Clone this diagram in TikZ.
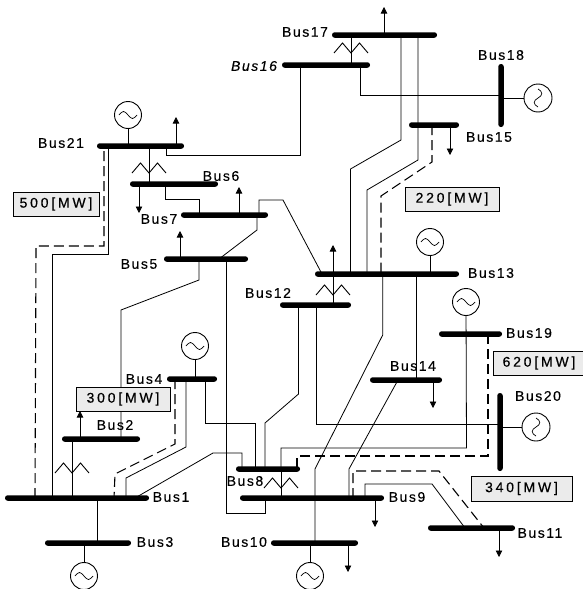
\documentclass[tikz,border=0pt]{standalone}
\usepackage{fontspec}
\usetikzlibrary{arrows.meta}
\newfontfamily\busfont[LetterSpace=11,FakeBold=0.3]{Liberation Sans}
\newfontfamily\mwfont[LetterSpace=20,FakeBold=0.4]{Liberation Sans}
\tikzset{
  busbar/.style={fill=black,inner sep=0pt,rounded corners=2.6pt,minimum height=5.5pt},
  vbusbar/.style={fill=black,inner sep=0pt,rounded corners=2.6pt,minimum width=5.5pt},
  line/.style={line width=0.8pt},
  dashline/.style={line width=1.1pt,dash pattern=on 10pt off 5pt},
  load/.style={line width=0.8pt,-{Triangle[length=6.5pt,width=6.5pt]}},
  gen/.style={circle,draw,line width=0.9pt,minimum size=27pt,inner sep=0pt,
    path picture={\draw[line width=0.7pt] (path picture bounding box.center) ++(-9,0)
      sin ++(4.5,-3.5) cos ++(4.5,3.5) sin ++(4.5,3.5) cos ++(4.5,-3.5);}},
  vgen/.style={circle,draw,line width=0.9pt,minimum size=28pt,inner sep=0pt,
    path picture={\draw[line width=0.7pt,shift={(path picture bounding box.center)}]
      (0,-9) .. controls (5,-6.5) and (5,-2.5) .. (0,0) .. controls (-5,2.5) and (-5,6.5) .. (0,9);}},
  buslabel/.style={inner sep=0pt,font=\busfont\fontsize{14}{16}\selectfont},
  mwbox/.style={draw,line width=0.6pt,fill=gray!16,inner sep=0pt,font=\mwfont\fontsize{14}{16}\selectfont},
  xfmr/.pic={\draw[line width=0.9pt] (-17,10)--(-8.5,0)--(0,10)--(8.5,0)--(17,10);}
}
\newcommand{\hbus}[4]{\node[busbar,minimum width={#3-#2}] (#1) at ({(#2+#3)/2},#4) {};}
\begin{document}
\begin{tikzpicture}[x=1pt,y=-1pt]
\useasboundingbox (0,0) rectangle (583,589);
% horizontal buses
\hbus{b1}{5}{149}{498}
\hbus{b2}{62}{140}{439}
\hbus{b3}{45}{131}{543}
\hbus{b4}{167}{217}{379}
\hbus{b5}{164}{248}{259}
\hbus{b6}{130}{218}{184}
\hbus{b7}{181}{268}{215}
\hbus{b8}{236}{300}{469}
\hbus{b9}{240}{384}{498}
\hbus{b10}{271}{358}{543}
\hbus{b11}{428}{515}{528}
\hbus{b12}{280}{351}{305}
\hbus{b13}{315}{459}{274}
\hbus{b14}{370}{442}{380}
\hbus{b15}{409}{459}{125}
\hbus{b16}{282}{370}{65}
\hbus{b17}{332}{437}{35}
\hbus{b19}{439}{502}{334}
\hbus{b21}{97}{184}{146}
% vertical buses
\node[vbusbar,minimum height=63pt] (b18) at (501,95.5) {};
\node[vbusbar,minimum height=78pt] (b20) at (500,432) {};
% generators
\node[gen] (g21) at (128,115) {};
\node[gen] (g3) at (84,576) {};
\node[gen] (g4) at (195,346) {};
\node[gen] (g10) at (310,576) {};
\node[gen] (g13) at (430,242) {};
\node[gen] (g19) at (466,302) {};
\node[vgen] (g18) at (538,98) {};
\node[vgen] (g20) at (536,427) {};
\draw[line] (g21) -- (g21 |- b21);
\draw[line] (g3) -- (g3 |- b3);
\draw[line] (g4) -- (g4 |- b4);
\draw[line] (g10) -- (g10 |- b10);
\draw[line] (g13) -- (g13 |- b13);
\draw[line] (g18) -- (g18 -| b18);
\draw[line] (g20) -- (g20 -| b20);
% loads
\foreach \n/\b/\x/\y in {l21/b21/176/117, l6/b6/139/213, l7/b7/239/187, l5/b5/180/231,
  l2/b2/80/411, l17/b17/384/7, l15/b15/450/155, l13/b13/333/245, l14/b14/433/408,
  l9/b9/375/527, l10/b10/348/572, l11/b11/499/557}{
  \coordinate (\n) at (\x,\y);
  \draw[load] (\n |- \b) -- (\n);
}
% transformers
\draw[line] (149,0 |- b21) -- (149,0 |- b6);
\pic at (149,163) {xfmr};
\draw[line] (72,0 |- b2) -- (72,0 |- b1);
\pic at (72,463) {xfmr};
\draw[line] (281,0 |- b8) -- (281,0 |- b9);
\pic at (281,478) {xfmr};
\draw[line] (351,0 |- b17) -- (351,0 |- b16);
\pic at (351,43) {xfmr};
\draw[line] (333,0 |- b13) -- (333,0 |- b12);
\pic at (333,285) {xfmr};
% solid lines
\draw[line] (52,0 |- b1) -- (52,254) -- (108,254) -- (108,0 |- b21);
\draw[line] (97.5,0 |- b1) -- (97.5,0 |- b3);
\draw[line] (166,0 |- b21) -- (166,155) -- (300,155) -- (300,0 |- b16);
\draw[line] (165,0 |- b6) -- (165,199) -- (199,199) -- (199,0 |- b7);
\draw[line] (259,0 |- b7) -- (259,200) -- (283,200) -- (322,0 |- b13);
\draw[line] (257,0 |- b7) -- (257,230) -- (219,0 |- b5);
\draw[line] (199,0 |- b5) -- (199,280) -- (121,310) -- (121,0 |- b2);
\draw[line] (226,0 |- b5) -- (226,513) -- (265,513) -- (265,0 |- b9);
\draw[line] (186,0 |- b4) -- (186,447) -- (126,478) -- (126,0 |- b1);
\draw[line] (205,0 |- b4) -- (205,423) -- (255,423) -- (255,0 |- b8);
\draw[line] (298.5,0 |- b12) -- (298.5,394) -- (265,423) -- (265,0 |- b8);
\draw[line] (135,0 |- b1) -- (213,453) -- (242,453) -- (242,0 |- b8);
\draw[line] (g19) -- (466.5,448) -- (281,448) -- (281,0 |- b8);
\draw[line] (382.7,0 |- b13) -- (382.7,335) -- (315,469) -- (315,0 |- b10);
\draw[line] (416.7,0 |- b13) -- (416.7,0 |- b14);
\draw[line] (398,0 |- b14) -- (349,469) -- (349,0 |- b9);
\draw[line] (365,0 |- b9) -- (365,484) -- (432,484) -- (465,0 |- b11);
\draw[line] (316,0 |- b12) -- (316,424) -- (500,424);
\draw[line] (360,0 |- b16) -- (360,95) -- (501,95);
\draw[line] (401,0 |- b17) -- (401,140) -- (350.5,169) -- (350.5,0 |- b13);
\draw[line] (418,0 |- b17) -- (418,160) -- (367,190) -- (367,0 |- b13);
% dashed lines
\draw[dashline] (35,0 |- b1) -- (36,246) -- (104,246) -- (104,0 |- b21);
\draw[dashline] (175,0 |- b4) -- (175,444) -- (115,474) -- (114,0 |- b1);
\draw[dashline] (488,0 |- b19) -- (488,456) -- (297,456) -- (297,0 |- b8);
\draw[dashline] (353,0 |- b9) -- (353,471) -- (439,471) -- (484,0 |- b11);
\draw[dashline] (432,0 |- b15) -- (432,162) -- (381,196) -- (381,0 |- b13);
% boxes
\node[mwbox,minimum width=86pt,minimum height=24pt] (m500) at (56,204) {500[MW]};
\node[mwbox,minimum width=94pt,minimum height=24pt] (m220) at (452,199) {220[MW]};
\node[mwbox,minimum width=94pt,minimum height=24pt] (m300) at (123,399) {300[MW]};
\node[mwbox,minimum width=92pt,minimum height=24pt] (m620) at (539,363) {620[MW]};
\node[mwbox,minimum width=101pt,minimum height=25pt] (m340) at (521.5,488.5) {340[MW]};
% labels
\node[buslabel] (t1) at (171,497) {Bus1};
\node[buslabel] (t2) at (115,425) {Bus2};
\node[buslabel] (t3) at (155,542) {Bus3};
\node[buslabel] (t4) at (144,379) {Bus4};
\node[buslabel] (t5) at (139,264) {Bus5};
\node[buslabel] (t6) at (221,176) {Bus6};
\node[buslabel] (t7) at (159,219) {Bus7};
\node[buslabel] (t8) at (245,481) {Bus8};
\node[buslabel] (t9) at (407,497) {Bus9};
\node[buslabel] (t10) at (244,542) {Bus10};
\node[buslabel] (t11) at (540,533) {Bus11};
\node[buslabel] (t12) at (268,293) {Bus12};
\node[buslabel] (t13) at (491,273) {Bus13};
\node[buslabel] (t14) at (413,366) {Bus14};
\node[buslabel] (t15) at (489,137) {Bus15};
\node[buslabel,font=\busfont\itshape\fontsize{14}{16}\selectfont] (t16) at (254,66) {Bus16};
\node[buslabel] (t17) at (305,32) {Bus17};
\node[buslabel] (t18) at (501,55) {Bus18};
\node[buslabel] (t19) at (529,333) {Bus19};
\node[buslabel] (t20) at (538,396) {Bus20};
\node[buslabel] (t21) at (61,143) {Bus21};
\end{tikzpicture}
\end{document}
